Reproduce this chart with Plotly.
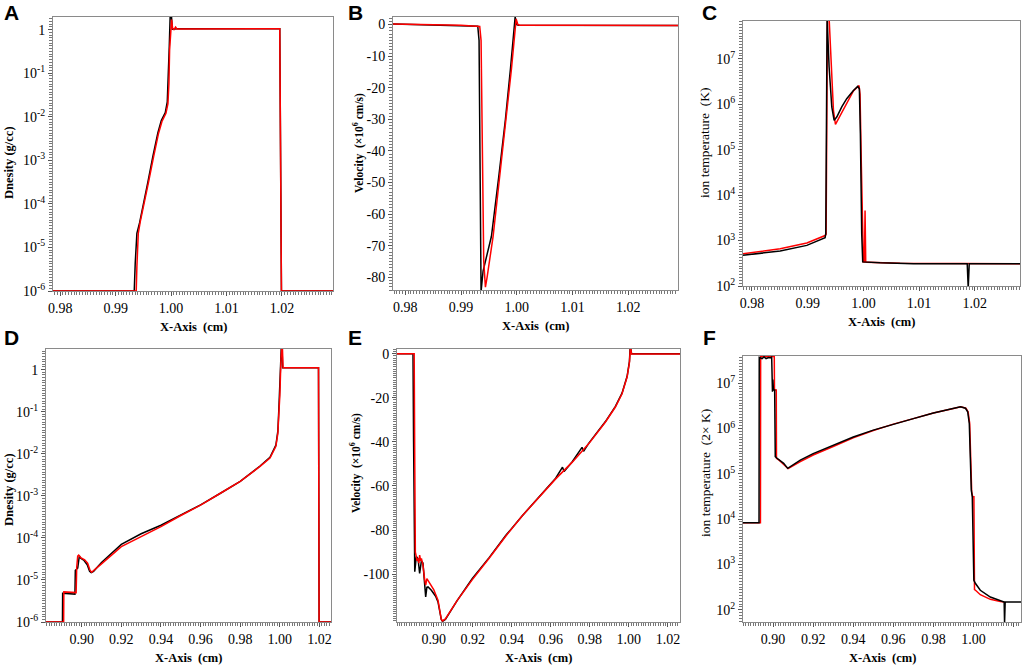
import plotly.graph_objects as go

# ---- panel A : density, early time ----
A_x_black = [0.9787, 0.99335, 0.99353, 0.99383, 0.99432, 0.99492, 0.99582, 0.99672, 0.99762, 0.99823, 0.99895,
             0.99931, 0.99949, 0.99967, 0.99985, 1.00003, 1.00021, 1.00105, 1.0196, 1.0199, 1.0292]
A_y_black = [1e-6, 1e-6, 4.4e-6, 2.1e-5, 3.7e-5, 8.3e-5, 3.2e-4, 1.25e-3, 4.3e-3, 8.2e-3, 1.24e-2,
             2.2e-2, 0.07, 0.41, 2.5, 2.5, 1.02, 1.05, 1.05, 1e-6, 1e-6]
A_x_red = [0.9787, 0.99371, 0.99383, 0.99408, 0.99444, 0.99504, 0.99594, 0.99684, 0.99774, 0.99835, 0.99907,
           0.99943, 0.99961, 0.99973, 0.99991, 1.00009, 1.00027, 1.00051, 1.00081, 1.00105, 1.0196, 1.0199, 1.0292]
A_y_red = [1e-6, 1e-6, 3.6e-6, 2.1e-5, 3.9e-5, 8.7e-5, 3.2e-4, 1.2e-3, 4.2e-3, 7.8e-3, 1.2e-2,
           2.0e-2, 0.059, 0.34, 1.0, 1.7, 1.07, 1.0, 1.15, 1.04, 1.05, 1e-6, 1e-6]

# ---- panel B : velocity (x10^6 cm/s), early time ----
B_x_black = [0.9778, 0.9930, 0.99323, 0.99341, 0.99359, 0.99395, 0.99545, 0.99677, 0.99796, 0.99886,
             0.99934, 0.99970, 1.00000, 1.00030, 1.0289]
B_y_black = [0.2, -0.5, -5, -50, -84.5, -78, -67, -48, -30, -14, -5, 2.4, 0, -0.2, -0.3]
B_x_red = [0.9778, 0.9900, 0.99335, 0.99359, 0.99383, 0.99407, 0.99437, 0.99467, 0.99575, 0.99695,
           0.99814, 0.99904, 0.99952, 0.99988, 1.00018, 1.00054, 1.0100, 1.0289]
B_y_red = [0.2, -0.2, -0.6, -5, -40, -75, -83.1, -80, -67, -48, -30, -14, -5, 1.8, 0, -0.2, -0.2, -0.3]

# ---- panel C : ion temperature (K), early time ----
C_x_black = [0.9784, 0.98507, 0.98985, 0.99313, 0.99325, 0.99337, 0.99349, 0.99385, 0.99433, 0.99475,
             0.99522, 0.99612, 0.99701, 0.99821, 0.99898, 0.99928, 0.99946, 0.99970, 0.99988, 1.0030,
             1.0090, 1.01863, 1.01881, 1.01899, 1.0281]
C_y_black = [473, 589, 783, 1156, 1413, 7.9e7, 7.9e7, 6.6e6, 8.7e5, 4.4e5,
             5.2e5, 8.7e5, 1.32e6, 2.0e6, 2.45e6, 2.19e6, 2.24e5, 1413, 339, 324,
             309, 309, 89, 309, 309]
C_x_red = [0.9784, 0.98507, 0.98985, 0.99313, 0.99331, 0.99355, 0.99385, 0.99415, 0.99463, 0.99499,
           0.99552, 0.99642, 0.99731, 0.99821, 0.99922, 0.99940, 0.99964, 1.00000, 1.00018, 1.00030,
           1.00042, 1.00060, 1.00657, 1.0281]
C_y_red = [513, 661, 883, 1288, 1380, 7.9e7, 7.9e7, 9.1e6, 7.2e5, 3.6e5,
           4.8e5, 7.9e5, 1.29e6, 1.95e6, 2.57e6, 1.66e6, 4.2e4, 339, 339, 4571,
           339, 331, 316, 309]

# ---- panel D : density, late time ----
D_x_black = [0.882, 0.8903, 0.8904, 0.8966, 0.8968, 0.8980, 0.8988, 0.8995, 0.9012, 0.9028, 0.9040, 0.9048,
             0.9060, 0.9100, 0.9200, 0.9300, 0.9400, 0.9500, 0.9600, 0.9700, 0.9800, 0.9900, 0.9950, 0.9980,
             0.9990, 0.9995, 1.0000, 1.0004, 1.0007, 1.0011, 1.0014, 1.0195, 1.0198, 1.0258]
D_y_black = [1e-6, 1e-6, 4.8e-6, 4.6e-6, 1.7e-5, 1.9e-5, 3.7e-5, 3.3e-5, 2.9e-5, 2.3e-5, 1.6e-5, 1.5e-5,
             1.6e-5, 2.6e-5, 7.0e-5, 1.25e-4, 2.0e-4, 3.5e-4, 6.1e-4, 1.15e-3, 2.2e-3, 5.1e-3, 8.2e-3, 0.016,
             0.035, 0.12, 0.5, 2.5, 3.2, 3.2, 1.1, 1.1, 1e-6, 1e-6]
D_x_red = [0.882, 0.8909, 0.8910, 0.8972, 0.8975, 0.8980, 0.8985, 0.8995, 0.9015, 0.9030, 0.9042, 0.9050,
           0.9100, 0.9200, 0.9300, 0.9400, 0.9500, 0.9600, 0.9700, 0.9800, 0.9900, 0.9950, 0.9980,
           0.9990, 0.9995, 1.0000, 1.0005, 1.0009, 1.0013, 1.0016, 1.0195, 1.0198, 1.0258]
D_y_red = [1e-6, 1e-6, 5.2e-6, 5.0e-6, 2.0e-5, 3.7e-5, 3.9e-5, 3.4e-5, 3.0e-5, 2.5e-5, 1.7e-5, 1.52e-5,
           2.4e-5, 6.2e-5, 1.07e-4, 1.85e-4, 3.4e-4, 6.0e-4, 1.15e-3, 2.2e-3, 5.0e-3, 7.9e-3, 0.015,
           0.031, 0.093, 0.25, 1.5, 3.2, 3.2, 1.1, 1.1, 1e-6, 1e-6]

# ---- panel E : velocity, late time ----
E_x_black = [0.8812, 0.8894, 0.8897, 0.8900, 0.8903, 0.8911, 0.8920, 0.8928, 0.8937, 0.8945, 0.8954, 0.8959,
             0.8965, 0.8971, 0.8988, 0.9010, 0.9022, 0.9039, 0.9045, 0.9060, 0.9120, 0.9198, 0.9284, 0.9369,
             0.9454, 0.9539, 0.9625, 0.9660, 0.9668, 0.9710, 0.9760, 0.9768, 0.9795, 0.9880, 0.9931, 0.9965,
             0.9991, 1.0003, 1.0006, 1.0010, 1.0014, 1.0262]
E_y_black = [0, 0, -40, -88, -98.9, -92, -93, -99.7, -94, -95, -103, -110.3,
             -106, -105.8, -107.3, -110, -112.6, -120.6, -121.4, -120.5, -112, -102, -92.5, -82.5,
             -73.5, -65, -56.5, -51.5, -53.5, -49, -42.5, -44.3, -40.6, -30.8, -23.9, -17.9,
             -10.3, -3.5, 2.0, 2.0, 0, 0]
E_x_red = [0.8812, 0.8900, 0.8903, 0.8906, 0.8911, 0.8915, 0.8920, 0.8924, 0.8928, 0.8933, 0.8937, 0.8945,
           0.8954, 0.8959, 0.8965, 0.8979, 0.8988, 0.9000, 0.9022, 0.9039, 0.9045, 0.9060, 0.9120, 0.9198,
           0.9284, 0.9369, 0.9454, 0.9539, 0.9625, 0.9710, 0.9795, 0.9880, 0.9931, 0.9965, 0.9991, 1.0003,
           1.0007, 1.0011, 1.0013, 1.0262]
E_y_red = [0, 0, -50, -90, -92.1, -94, -92.9, -95, -91.4, -94, -92.9, -95.9,
           -102.7, -105, -102, -104, -105, -107, -111.8, -120.4, -121.2, -120.3, -112, -102.5,
           -92.8, -82.8, -73.5, -65.2, -56.8, -49.2, -40.8, -31, -24.2, -18.2, -10.6, -4,
           1.8, 1.8, -0.2, -0.2]

# ---- panel F : ion temperature (2x K), late time ----
F_x_black = [0.885, 0.8930, 0.8931, 0.8945, 0.8955, 0.8965, 0.8978, 0.8990, 0.8993, 0.8995, 0.8997, 0.8999,
             0.9002, 0.9008, 0.9011, 0.9020, 0.9053, 0.9073, 0.9136, 0.9200, 0.9300, 0.9400, 0.9500, 0.9600,
             0.9700, 0.9800, 0.9900, 0.9935, 0.9960, 0.9971, 0.9979, 0.9984, 0.9989, 0.9994, 0.99983, 1.00017,
             1.0010, 1.0034, 1.0084, 1.0134, 1.0153, 1.0155, 1.0158, 1.0237]
F_y_black = [8.3e3, 8.3e3, 3.7e7, 3.5e7, 3.8e7, 3.5e7, 3.7e7, 3.6e7, 3.9e7, 1.1e7, 6.5e6, 1.2e7,
             7.1e6, 7.1e6, 2.4e5, 2.2e5, 1.7e5, 1.32e5, 2.0e5, 2.8e5, 4.3e5, 6.5e5, 9.2e5, 1.25e6,
             1.65e6, 2.2e6, 2.75e6, 3.0e6, 2.8e6, 2.34e6, 1.29e6, 1.7e5, 4.4e4, 3.1e4, 2.9e3, 447,
             380, 269, 191, 155, 148, 50, 148, 148]
F_x_red = [0.885, 0.8937, 0.8938, 0.8960, 0.8980, 0.9000, 0.9006, 0.9007, 0.9016, 0.9017, 0.9030, 0.9053,
           0.9075, 0.9136, 0.9200, 0.9300, 0.9400, 0.9500, 0.9600, 0.9700, 0.9800, 0.9900, 0.9937, 0.9962,
           0.9973, 0.9981, 0.9986, 0.9991, 0.9996, 1.0002, 1.0005, 1.0010, 1.0034, 1.0084, 1.0134, 1.0153]
F_y_red = [8.3e3, 8.3e3, 3.9e7, 3.9e7, 3.9e7, 3.9e7, 3.9e7, 7.1e6, 7.1e6, 2.2e5, 2.0e5, 1.6e5,
           1.3e5, 1.85e5, 2.6e5, 4.0e5, 6.2e5, 9.0e5, 1.25e6, 1.65e6, 2.2e6, 2.75e6, 3.0e6, 2.8e6,
           2.34e6, 1.3e6, 2.0e5, 4.0e4, 3.1e4, 3.1e4, 280, 270, 215, 170, 152, 148]

# tick labels
x_ticks_top = [0.98, 0.99, 1.00, 1.01, 1.02]
x_ticks_bottom = [0.90, 0.92, 0.94, 0.96, 0.98, 1.00, 1.02]
vel_ticks_B = [0, -10, -20, -30, -40, -50, -60, -70, -80]
vel_ticks_E = [0, -20, -40, -60, -80, -100]
dens_exps = [-6, -5, -4, -3, -2, -1, 0]
temp_exps = [2, 3, 4, 5, 6, 7]

SERIF = "Liberation Serif"
W, H = 1024, 667


def log_ticks(exps):
    vals = [10.0 ** e for e in exps]
    text = ["1" if e == 0 else f"10<sup>{e}</sup>" for e in exps]
    return vals, text


# plot boxes in pixels (left, right, top, bottom) and axis ranges
panels = [
    dict(tag="A", box=(53, 333, 17, 291), xr=[0.9787, 1.0292], yr=[-6, 0.29], ylog=True,
         xb=A_x_black, yb=A_y_black, xr_=A_x_red, yr_=A_y_red, red_top=True,
         xt=x_ticks_top, yt=log_ticks(dens_exps), ytitle="<b>Dnesity (g/cc)</b>", tsize=12.5, tpos=(9, 163)),
    dict(tag="B", box=(393, 678, 17, 290), xr=[0.9778, 1.0289], yr=[-84, 2.4], ylog=False,
         xb=B_x_black, yb=B_y_black, xr_=B_x_red, yr_=B_y_red, red_top=True,
         xt=x_ticks_top, yt=(vel_ticks_B, [str(v) for v in vel_ticks_B]),
         ytitle="<b>Velocity  (×10<sup>6</sup> cm/s)</b>", tsize=11.5, tpos=(358, 143)),
    dict(tag="C", box=(743, 1020, 21, 286), xr=[0.9784, 1.0281], yr=[2, 7.83], ylog=True,
         xb=C_x_black, yb=C_y_black, xr_=C_x_red, yr_=C_y_red, red_top=False,
         xt=x_ticks_top, yt=log_ticks(temp_exps), ytitle="ion temperature  (K)", tsize=13.5, tpos=(704, 143)),
    dict(tag="D", box=(46, 331, 349, 622), xr=[0.882, 1.0258], yr=[-6, 0.49], ylog=True,
         xb=D_x_black, yb=D_y_black, xr_=D_x_red, yr_=D_y_red, red_top=True,
         xt=x_ticks_bottom, yt=log_ticks(dens_exps), ytitle="<b>Dnesity (g/cc)</b>", tsize=12.5, tpos=(9, 490)),
    dict(tag="E", box=(397, 680, 349, 622), xr=[0.8812, 1.0262], yr=[-121.7, 2.1], ylog=False,
         xb=E_x_black, yb=E_y_black, xr_=E_x_red, yr_=E_y_red, red_top=True,
         xt=x_ticks_bottom, yt=(vel_ticks_E, [str(v) for v in vel_ticks_E]),
         ytitle="<b>Velocity  (×10<sup>6</sup> cm/s)</b>", tsize=11.5, tpos=(355, 463)),
    dict(tag="F", box=(743, 1021, 356, 622), xr=[0.885, 1.0237], yr=[1.73, 7.6], ylog=True,
         xb=F_x_black, yb=F_y_black, xr_=F_x_red, yr_=F_y_red, red_top=False,
         xt=x_ticks_bottom, yt=log_ticks(temp_exps), ytitle="ion temperature  (2× K)", tsize=13.5, tpos=(706, 473)),
]

fig = go.Figure()
annotations = []
letter_pos = {"A": (11, 12), "B": (355, 12), "C": (709, 12), "D": (11, 337), "E": (355, 337), "F": (709, 337)}

for i, p in enumerate(panels):
    n = "" if i == 0 else str(i + 1)
    l, r, t, b = p["box"]
    xdom = [l / W, r / W]
    ydom = [1 - b / H, 1 - t / H]

    black = go.Scatter(x=p["xb"], y=p["yb"], mode="lines", line=dict(color="black", width=1.5),
                       xaxis="x" + n, yaxis="y" + n, showlegend=False)
    red = go.Scatter(x=p["xr_"], y=p["yr_"], mode="lines", line=dict(color="#ff0000", width=1.5),
                     xaxis="x" + n, yaxis="y" + n, showlegend=False)
    if p["red_top"]:
        fig.add_trace(black)
        fig.add_trace(red)
    else:
        fig.add_trace(red)
        fig.add_trace(black)

    bottom_row = p["tag"] in "DEF"
    xminor = 0.00125 if bottom_row else 0.0005
    fig.layout["xaxis" + n] = dict(
        domain=xdom, anchor="y" + n, range=p["xr"], automargin=False,
        tickmode="array", tickvals=p["xt"], tickformat=".2f",
        ticks="outside", ticklen=4, tickcolor="#555", showgrid=False, zeroline=False,
        showline=True, mirror=True, linecolor="#8a8a8a", linewidth=1,
        tickfont=dict(family=SERIF, size=14, color="black"),
        minor=dict(ticks="outside", ticklen=3, tickcolor="#777", dtick=xminor, showgrid=False),
    )
    yvals, ytext = p["yt"]
    if p["ylog"]:
        yminor = dict(ticks="outside", ticklen=3, tickcolor="#777", dtick=0.0625, showgrid=False)
    else:
        yminor = dict(ticks="outside", ticklen=3, tickcolor="#777", dtick=1, showgrid=False)
    fig.layout["yaxis" + n] = dict(
        domain=ydom, anchor="x" + n, range=p["yr"], type="log" if p["ylog"] else "linear",
        automargin=False, tickmode="array", tickvals=yvals, ticktext=ytext,
        ticks="outside", ticklen=4, tickcolor="#555", showgrid=False, zeroline=False,
        showline=True, mirror=True, linecolor="#8a8a8a", linewidth=1,
        tickfont=dict(family=SERIF, size=14, color="black"), minor=yminor,
    )

    # axis titles and panel letter
    annotations.append(dict(text="<b>X-Axis  (cm)</b>", xref="paper", yref="paper",
                            x=(l + r) / 2 / W, y=1 - (b + 36) / H, xanchor="center", yanchor="middle",
                            showarrow=False, font=dict(family=SERIF, size=12.5, color="black")))
    tx, ty = p["tpos"]
    annotations.append(dict(text=p["ytitle"], xref="paper", yref="paper", x=tx / W, y=1 - ty / H,
                            xanchor="center", yanchor="middle", textangle=-90, showarrow=False,
                            font=dict(family=SERIF, size=p["tsize"], color="black")))
    lx, ly = letter_pos[p["tag"]]
    annotations.append(dict(text="<b>" + p["tag"] + "</b>", xref="paper", yref="paper",
                            x=lx / W, y=1 - ly / H, xanchor="center", yanchor="middle", showarrow=False,
                            font=dict(family="Liberation Sans", size=21, color="black")))

fig.update_layout(
    width=W, height=H, margin=dict(l=0, r=0, t=0, b=0, autoexpand=False),
    paper_bgcolor="white", plot_bgcolor="white", template="none",
    annotations=annotations, showlegend=False,
)

# the browser's default 8px body margin would shift the whole figure
fig.write_html("out.html", config={"displayModeBar": False},
               post_script="document.body.style.margin='0';")
